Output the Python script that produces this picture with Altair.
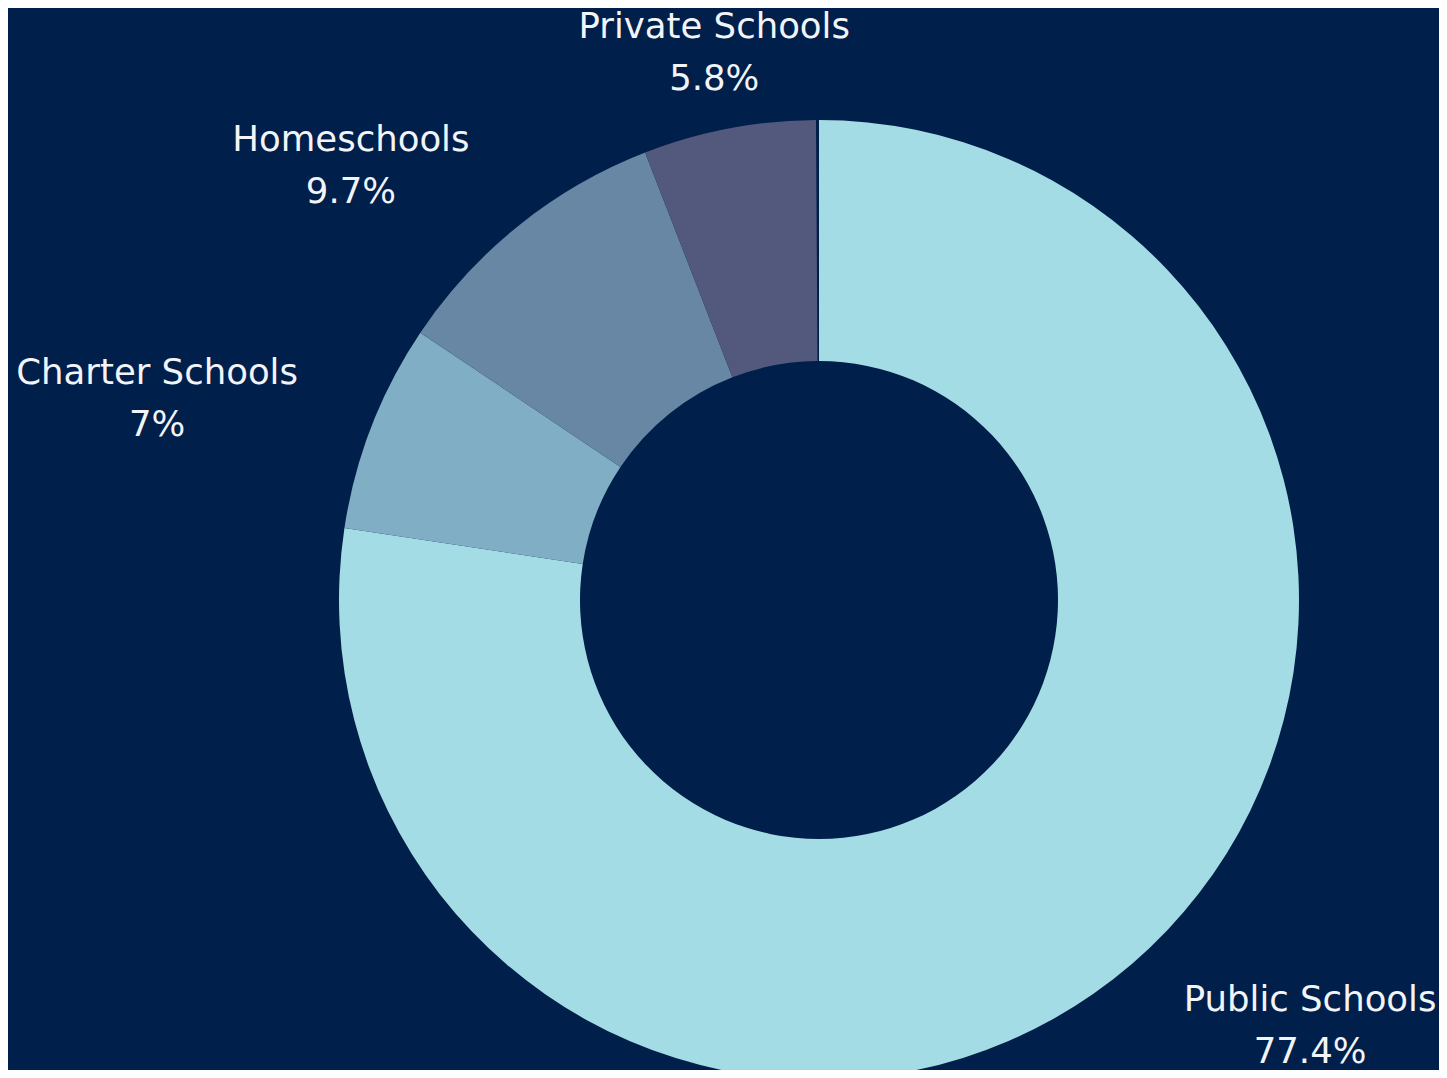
import math
import altair as alt
import pandas as pd

categories = ["Public Schools", "Charter Schools", "Homeschools", "Private Schools"]
shares = [77.4, 7.0, 9.7, 5.8]
colors = ["#a3dce5", "#80afc5", "#6787a5", "#52597c"]

FONT = "DejaVu Sans"
FONT_SIZE = 35.5
# DejaVu Sans advance widths (em) for the glyphs used in the labels
GLYPH_EM = {" ": .318, "%": .950, ".": .318, "C": .698, "H": .752, "P": .603,
            "S": .635, "a": .613, "b": .635, "c": .550, "e": .615, "h": .634,
            "i": .278, "l": .278, "m": .974, "o": .612, "r": .411, "s": .521,
            "t": .392, "u": .634, "v": .592}


def text_width(s):
    return sum(GLYPH_EM.get(ch, .636) for ch in s) * FONT_SIZE


rows = []
acc = 0.0
for cat, v in zip(categories, shares):
    start = acc
    end = acc + v
    mid = (start + end) / 2
    deg = mid / 100 * 360
    if min(abs(deg - 0), abs(deg - 360), abs(deg - 180)) < 15:
        side = 0
    elif deg < 180:
        side = 1
    else:
        side = -1
    value_txt = f"{v:g}%"
    block_w = max(text_width(cat), text_width(value_txt))
    rows.append({"category": cat, "value": v, "start": start, "end": end,
                 "mid": mid, "shift": side * block_w / 2,
                 "label": f"{cat}\n{value_txt}"})
    acc = end
df = pd.DataFrame(rows)

theta_scale = alt.Scale(domain=[0, 100], range=[0, 2 * math.pi])
CX, CY = 811, 592

base = alt.Chart(df)

arcs = base.mark_arc(outerRadius=480, innerRadius=239, stroke=None).encode(
    theta=alt.Theta("start:Q", scale=theta_scale),
    theta2="end:Q",
    color=alt.Color("category:N", scale=alt.Scale(domain=categories, range=colors), legend=None),
    x=alt.value(CX),
    y=alt.value(CY),
)

layers = [arcs]
for r in rows:
    layers.append(
        base.transform_filter(alt.datum.category == r["category"]).mark_text(
            radius=559, align="center", baseline="middle", lineBreak="\n", lineHeight=52,
            dx=r["shift"], dy=-24, font=FONT, fontSize=FONT_SIZE, color="#f2f4f8",
        ).encode(
            theta=alt.Theta("mid:Q", scale=theta_scale),
            text="label:N",
            x=alt.value(CX),
            y=alt.value(CY),
        )
    )

chart = alt.layer(*layers).properties(
    width=1431, height=1062, background="#001f4a",
    autosize=alt.AutoSizeParams(type="none"), padding=0,
).configure_view(stroke=None)

chart.save("out.html", embed_options={"renderer": "svg", "actions": False})
